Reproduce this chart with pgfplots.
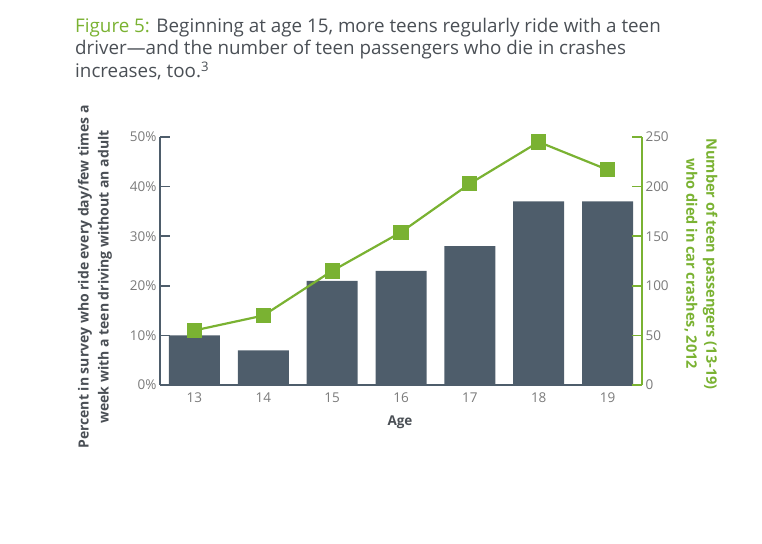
\documentclass[border=0pt]{standalone}
\usepackage{fontspec}
\setmainfont{Open Sans}
\usepackage{pgfplots}
\pgfplotsset{compat=1.18}
\definecolor{slate}{HTML}{4E5D6B}
\definecolor{leaf}{HTML}{7AB232}
\definecolor{ink}{HTML}{4A4F55}
\definecolor{ticktext}{HTML}{7A7A7A}

\pgfplotsset{twin/.style={
  at={(160pt,158pt)}, anchor=south west,
  scale only axis, width=482pt, height=248pt,
  xmin=12.5, xmax=19.5, ymin=0,
  major tick length=10pt,
  /pgf/number format/assume math mode=true,
  ticklabel style={font=\fontsize{13.5}{15}\selectfont, text=ticktext},
  clip=false,
}}

\begin{document}
\begin{tikzpicture}
\useasboundingbox (0pt,0pt) rectangle (762pt,543pt);

% title
\begin{scope}[every node/.style={anchor=base west, inner sep=0, text=ink, font=\fontsize{18.8}{22}\selectfont}]
\node at (75pt,510pt) {\textcolor{leaf}{Figure 5:} Beginning at age 15, more teens regularly ride with a teen};
\node at (75pt,488pt) {driver---and the number of teen passengers who die in crashes};
\node at (75pt,465pt) {increases, too.\textsuperscript{3}};
\end{scope}

% bars, left axis
\begin{axis}[twin, ymax=50,
  axis x line=bottom, axis y line=left, tick align=inside,
  axis line style={-, slate, line width=1.6pt},
  xtick={13,...,19}, ytick={0,10,...,50},
  x tick style={draw=none},
  y tick style={slate, line width=1.6pt},
  extra x ticks={13.5,14.5,...,18.5}, extra x tick labels={},
  extra x tick style={major tick length=5pt, tick style={draw=slate, line width=1.2pt}},
  yticklabel={\pgfmathprintnumber{\tick}\%},
  xticklabel style={yshift=-4pt},
]
\addplot[ybar, bar width=51pt, fill=slate, draw=none] coordinates {
  (13,10) (14,7) (15,21) (16,23) (17,28) (18,37) (19,37)
};
\end{axis}

% line, right axis
\begin{axis}[twin, ymax=250,
  axis x line=none, axis y line=right, tick align=inside,
  axis line style={-, leaf, line width=1.6pt},
  ytick={0,50,...,250},
  y tick style={leaf, line width=1.6pt},
]
\addplot[leaf, line width=2.2pt, mark=square*, mark size=6.5pt, mark options={fill=leaf, draw=none}] coordinates {
  (13,55) (14,70) (15,115) (16,154) (17,203) (18,245) (19,217)
};
\end{axis}

% axis titles
\node[rotate=90, align=center, text=ink, font=\bfseries\fontsize{14}{20}\selectfont] at (95pt,266pt)
  {Percent in survey who ride every day/few times a\\week with a teen driving without an adult};
\node[rotate=-90, align=center, text=leaf, font=\bfseries\fontsize{14.5}{20}\selectfont] at (701pt,279pt)
  {Number of teen passengers (13-19)\\who died in car crashes, 2012};
\node[text=ink, font=\bfseries\fontsize{13.5}{15}\selectfont] at (400pt,121pt) {Age};
\end{tikzpicture}
\end{document}
